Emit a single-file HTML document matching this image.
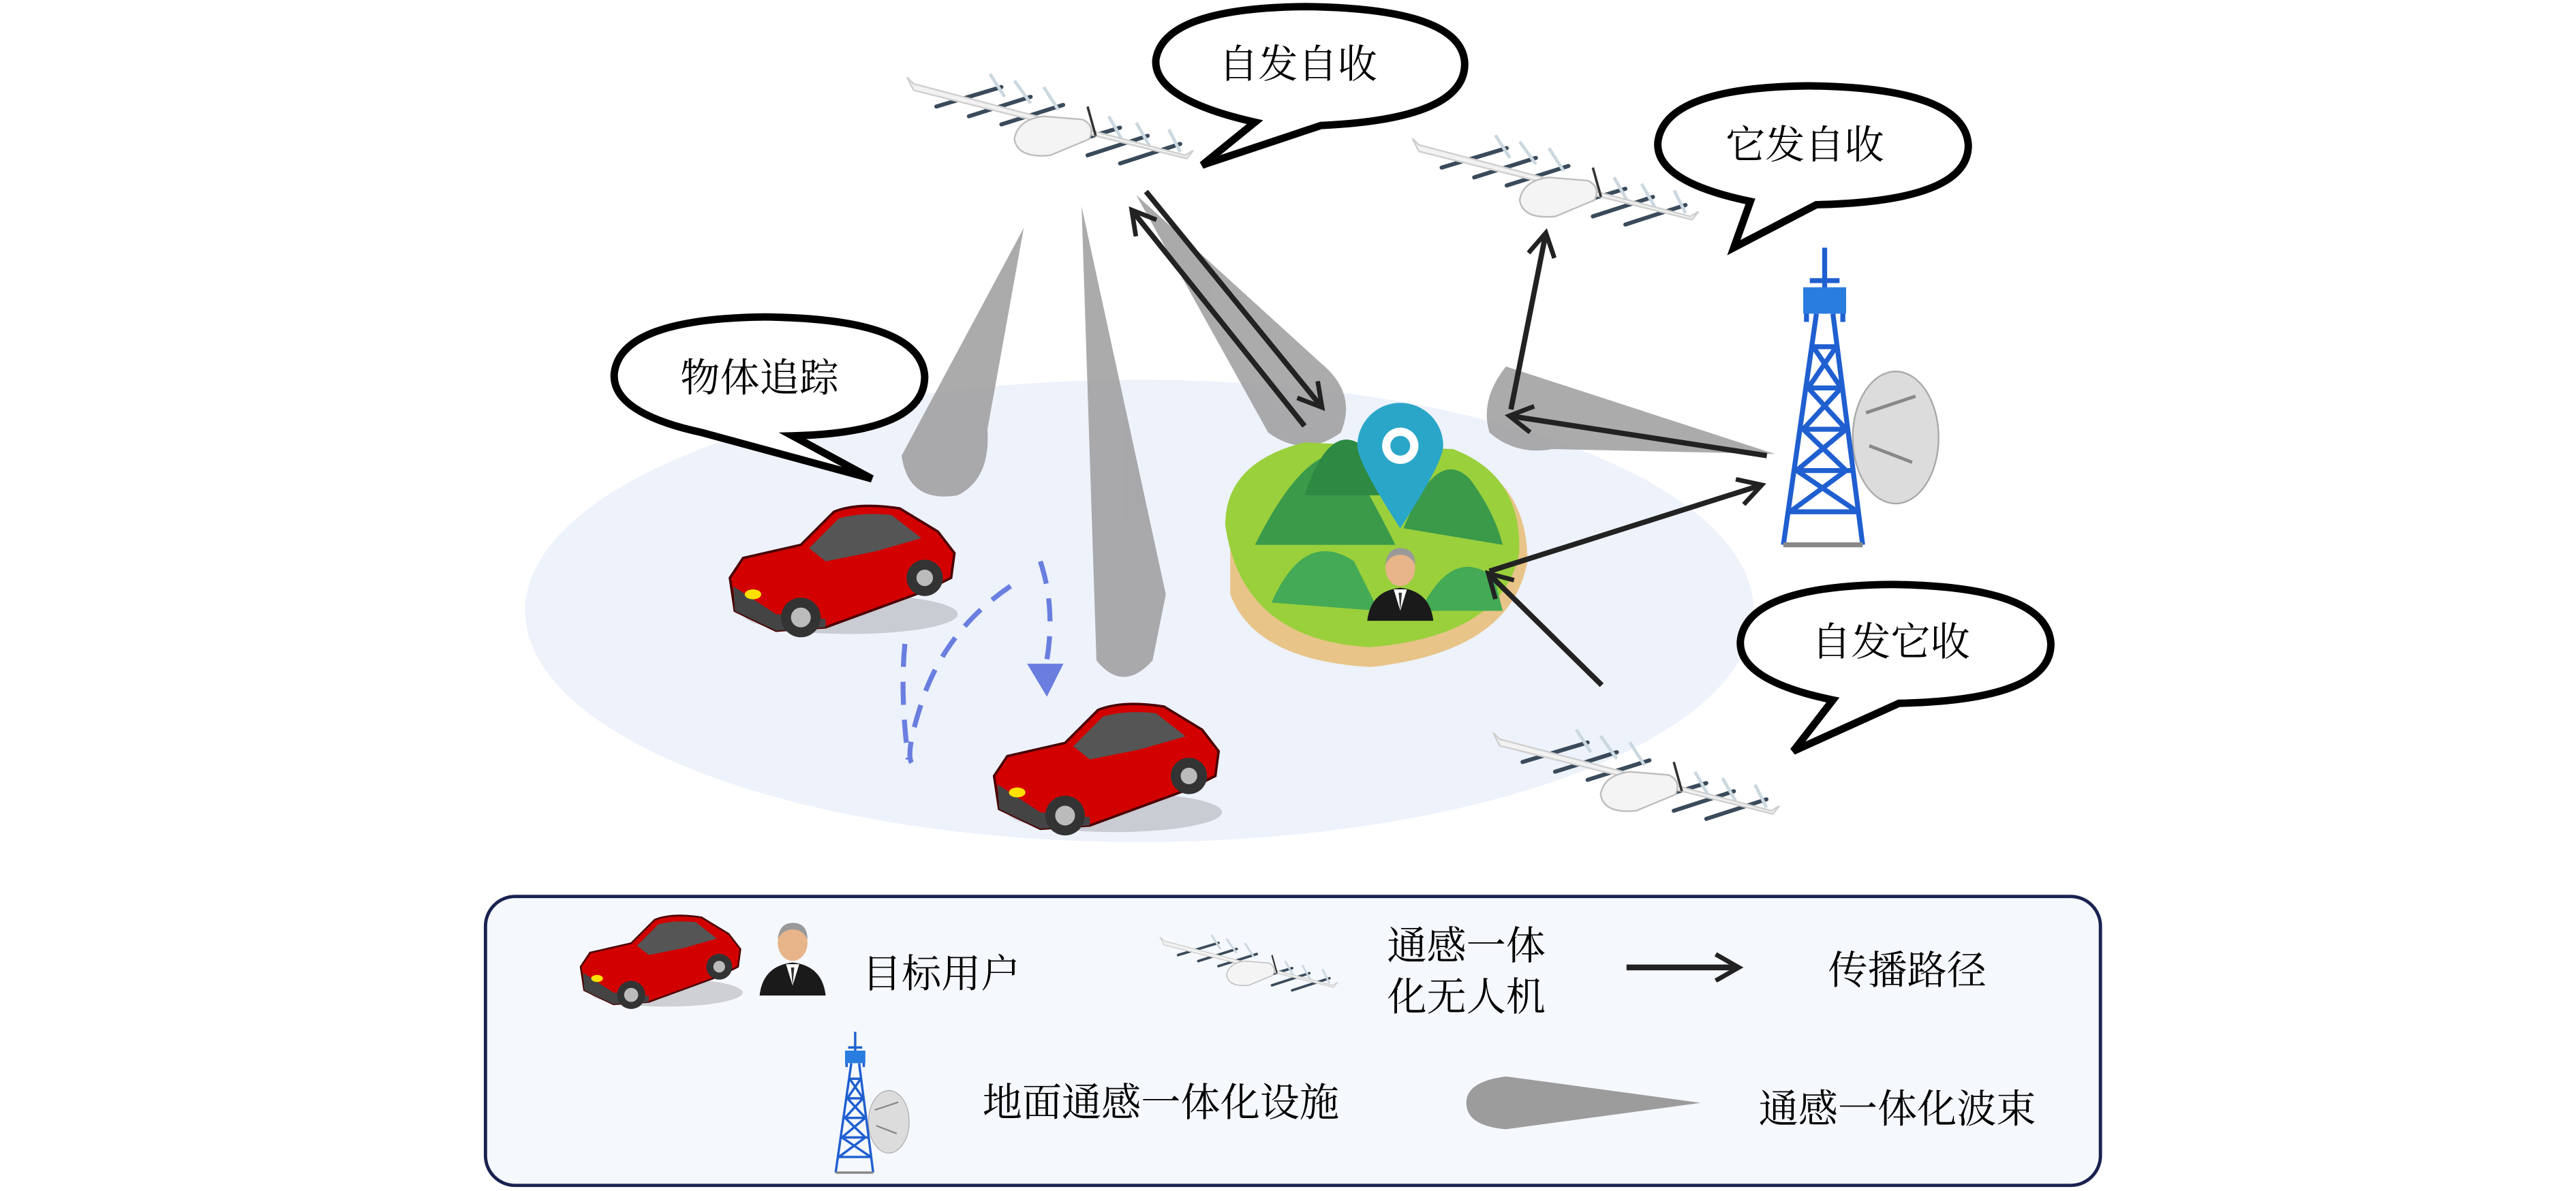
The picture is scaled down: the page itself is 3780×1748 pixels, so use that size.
<!DOCTYPE html>
<html><head><meta charset="utf-8"><style>
html,body{margin:0;padding:0;background:#fff;}
svg{display:block;}
text{font-family:"Liberation Serif","Noto Serif CJK SC",serif;fill:#000;}
</style></head><body>
<svg width="3780" height="1748" viewBox="0 0 1560 721.4" xmlns="http://www.w3.org/2000/svg">
<defs>
<symbol id="drone" viewBox="0 0 180 65" overflow="visible">
 <g stroke="#3a4a5a" stroke-width="2.5" stroke-linecap="round">
  <line x1="22" y1="30" x2="62" y2="18"/><line x1="42" y1="36" x2="80" y2="24"/><line x1="62" y1="41" x2="100" y2="29"/>
  <line x1="95" y1="55" x2="135" y2="43"/><line x1="115" y1="60" x2="152" y2="48"/><line x1="135" y1="65" x2="172" y2="53"/>
 </g>
 <g stroke="#ccd8e0" stroke-width="2"><line x1="55" y1="10" x2="64" y2="24"/><line x1="70" y1="14" x2="80" y2="28"/><line x1="88" y1="18" x2="97" y2="32"/>
 <line x1="128" y1="36" x2="136" y2="50"/><line x1="145" y1="40" x2="153" y2="54"/><line x1="165" y1="44" x2="172" y2="58"/></g>
 <path d="M4 12 L8 16 L175 60 L180 57 L176 62 L8 20 Z" fill="#f2f2f2" stroke="#cfcfcf" stroke-width="1"/>
 <path d="M70 50 Q72 38 88 36 L112 38 Q120 42 116 50 L92 60 Q72 62 70 50Z" fill="#f4f4f4" stroke="#bdbdbd" stroke-width="1"/>
 <line x1="115" y1="30" x2="120" y2="48" stroke="#333" stroke-width="1.5"/>
</symbol>
<symbol id="car" viewBox="0 0 140 90" overflow="visible">
 <ellipse cx="75" cy="72" rx="65" ry="12" fill="#888" opacity="0.35"/>
 <path d="M2 50 L10 38 L45 30 L65 10 Q80 4 105 8 L128 22 L138 35 L136 50 L120 58 L60 80 L30 82 L5 70 Z" fill="#d30000" stroke="#4a0000" stroke-width="1.5"/>
 <path d="M50 32 L68 14 Q82 10 100 12 L118 26 L90 34 L60 40Z" fill="#555"/>
 <path d="M4 55 L30 72 L60 75 L60 80 L30 82 L5 70Z" fill="#444"/>
 <circle cx="45" cy="74" r="12" fill="#333"/><circle cx="45" cy="74" r="6" fill="#bbb"/>
 <circle cx="120" cy="50" r="11" fill="#333"/><circle cx="120" cy="50" r="5" fill="#bbb"/>
 <ellipse cx="16" cy="60" rx="5" ry="3" fill="#ffe000"/>
</symbol>
<symbol id="tower" viewBox="0 0 100 190" overflow="visible">
 <ellipse cx="78" cy="115" rx="26" ry="40" fill="#dcdcdc" stroke="#aaa"/>
 <path d="M60 100 L90 90 M62 120 L88 130" stroke="#888" stroke-width="2"/>
 <g stroke="#1f5fd0" stroke-width="3" fill="none">
  <path d="M30 40 L10 180 M40 40 L58 180"/>
  <path d="M28 60 L42 60 M25 85 L45 85 M22 110 L48 110 M18 135 L52 135 M14 160 L55 160"/>
  <path d="M28 60 L45 85 L22 110 L48 135 L14 160 M42 60 L25 85 L48 110 L18 135 L55 160"/>
  <path d="M35 0 L35 40 M26 20 L44 20 M24 28 L24 45 M46 28 L46 45"/>
 </g>
 <rect x="22" y="24" width="26" height="16" fill="#2a7de0"/>
 <path d="M10 180 L58 180" stroke="#888" stroke-width="3"/>
</symbol>
<symbol id="man" viewBox="0 0 40 46" overflow="visible">
 <path d="M0 46 Q2 28 20 26 Q38 28 40 46Z" fill="#1a1a1a"/>
 <path d="M16 27 L20 40 L24 27Z" fill="#fff"/><path d="M19 29 L20 40 L21 29Z" fill="#333"/>
 <ellipse cx="20" cy="14" rx="9" ry="11" fill="#e8b48a"/>
 <path d="M11 12 Q12 2 20 2 Q29 2 29 12 Q26 6 20 6 Q14 6 11 12Z" fill="#999"/>
</symbol>
<marker id="ah2" markerWidth="18" markerHeight="18" refX="14" refY="9" orient="auto" markerUnits="userSpaceOnUse" viewBox="0 0 18 18">
 <path d="M1 1 L15 9 L1 17" fill="none" stroke="#222" stroke-width="2.8"/></marker>
</defs>

<ellipse cx="690" cy="370" rx="372" ry="140" fill="#edf2fb"/>

<g fill="#9c9c9c" opacity="0.85">
 <path d="M620 138 L546 276 Q550 305 580 300 Q600 290 598 260 Z"/>
 <path d="M655 125 L664 400 Q680 420 698 400 L706 360 Z"/>
 <path d="M688 118 L768 262 Q790 278 812 262 Q822 238 800 220 Z"/>
 <path d="M1075 275 L912 222 Q896 242 902 262 Q918 276 940 272 Z"/>
</g>

<g fill="#fff" stroke="#000" stroke-width="4.5">
 <path d="M760 74 Q698 60 700 36 Q705 5 790 4 Q885 5 887 38 Q888 72 800 76 L728 100 Z"/>
 <path d="M1060 122 Q1002 110 1004 86 Q1008 53 1095 52 Q1190 53 1192 88 Q1192 122 1100 124 L1050 150 Z"/>
 <path d="M425 262 Q370 250 372 226 Q376 193 463 192 Q558 193 560 228 Q560 262 480 264 L528 290 Z"/>
 <path d="M1110 424 Q1052 412 1054 388 Q1058 355 1145 354 Q1240 355 1242 390 Q1242 424 1150 426 L1086 455 Z"/>
</g>
<g font-size="24">
 <text x="738" y="47">自发自收</text>
 <text x="1045" y="96">它发自收</text>
 <text x="412" y="237">物体追踪</text>
 <text x="1097" y="397">自发它收</text>
</g>

<use href="#drone" x="545" y="35" width="178" height="64"/>
<use href="#drone" x="850" y="72" width="180" height="64"/>
<use href="#drone" x="900" y="432" width="178" height="64"/>

<path d="M745 320 Q740 280 790 270 L880 275 Q925 290 925 340 Q915 395 830 404 Q760 400 745 360Z" fill="#e8c488"/>
<path d="M742 318 Q742 280 790 268 L880 272 Q922 288 920 335 Q910 385 830 392 Q752 388 742 318Z" fill="#9ad03c"/>
<g fill="#3a9a4a">
 <path d="M760 330 Q790 270 815 275 Q830 300 845 330Z"/>
 <path d="M790 300 Q805 255 825 270 Q840 290 850 300Z" fill="#2e8a42"/>
 <path d="M850 320 Q870 270 890 290 Q905 310 910 330Z"/>
 <path d="M770 365 Q790 320 820 340 Q830 360 835 370Z" fill="#44aa55"/>
 <path d="M860 370 Q880 330 905 350 L910 370Z" fill="#44aa55"/>
</g>
<path d="M848 320 Q822 280 822 270 A26 26 0 1 1 874 270 Q874 280 848 320Z" fill="#2aa6c8"/>
<circle cx="848" cy="270" r="11" fill="#fff"/><circle cx="848" cy="270" r="6" fill="#2aa6c8"/>
<use href="#man" x="828" y="330" width="40" height="46"/>

<g stroke="#222" stroke-width="3.2" fill="none">
 <line x1="694" y1="116" x2="800" y2="246" marker-end="url(#ah2)"/>
 <line x1="790" y1="258" x2="686" y2="128" marker-end="url(#ah2)"/>
 <line x1="1070" y1="276" x2="915" y2="252" marker-end="url(#ah2)"/>
 <line x1="915" y1="248" x2="936" y2="142" marker-end="url(#ah2)"/>
 <line x1="902" y1="346" x2="1066" y2="294" marker-end="url(#ah2)"/>
 <line x1="970" y1="415" x2="902" y2="348" marker-end="url(#ah2)"/>
</g>

<use href="#tower" x="1070" y="150" width="100" height="190"/>

<use href="#car" x="440" y="300" width="140" height="90"/>
<use href="#car" x="600" y="420" width="140" height="90"/>

<path d="M630 340 Q640 370 633 405" stroke="#6a7ee0" stroke-width="3" stroke-dasharray="14 9" fill="none"/>
<path d="M622 402 L634 422 L644 402Z" fill="#6a7ee0"/>
<path d="M612 355 Q575 380 560 420 Q548 455 552 462" stroke="#6a7ee0" stroke-width="3" stroke-dasharray="14 9" fill="none"/>
<path d="M548 390 Q545 420 550 460" stroke="#6a7ee0" stroke-width="3" stroke-dasharray="14 9" fill="none"/>

<rect x="294" y="543" width="978" height="175" rx="18" fill="#f5f8fd" stroke="#1a2250" stroke-width="2"/>
<use href="#car" x="350" y="550" width="100" height="64"/>
<use href="#man" x="460" y="550" width="40" height="60"/>
<text x="522" y="598" font-size="24">目标用户</text>
<use href="#drone" x="700" y="560" width="110" height="40"/>
<text x="840" y="581" font-size="24">通感一体</text>
<text x="840" y="612" font-size="24">化无人机</text>
<line x1="985" y1="586" x2="1052" y2="586" stroke="#222" stroke-width="3.5" marker-end="url(#ah2)"/>
<text x="1107" y="596" font-size="24">传播路径</text>
<use href="#tower" x="490" y="625" width="70" height="90"/>
<text x="595" y="676" font-size="24">地面通感一体化设施</text>
<path d="M1030 668 L912 652 Q888 655 888 668 Q888 682 912 684 Z" fill="#9c9c9c"/>
<text x="1065" y="680" font-size="24">通感一体化波束</text>
</svg>
</body></html>
